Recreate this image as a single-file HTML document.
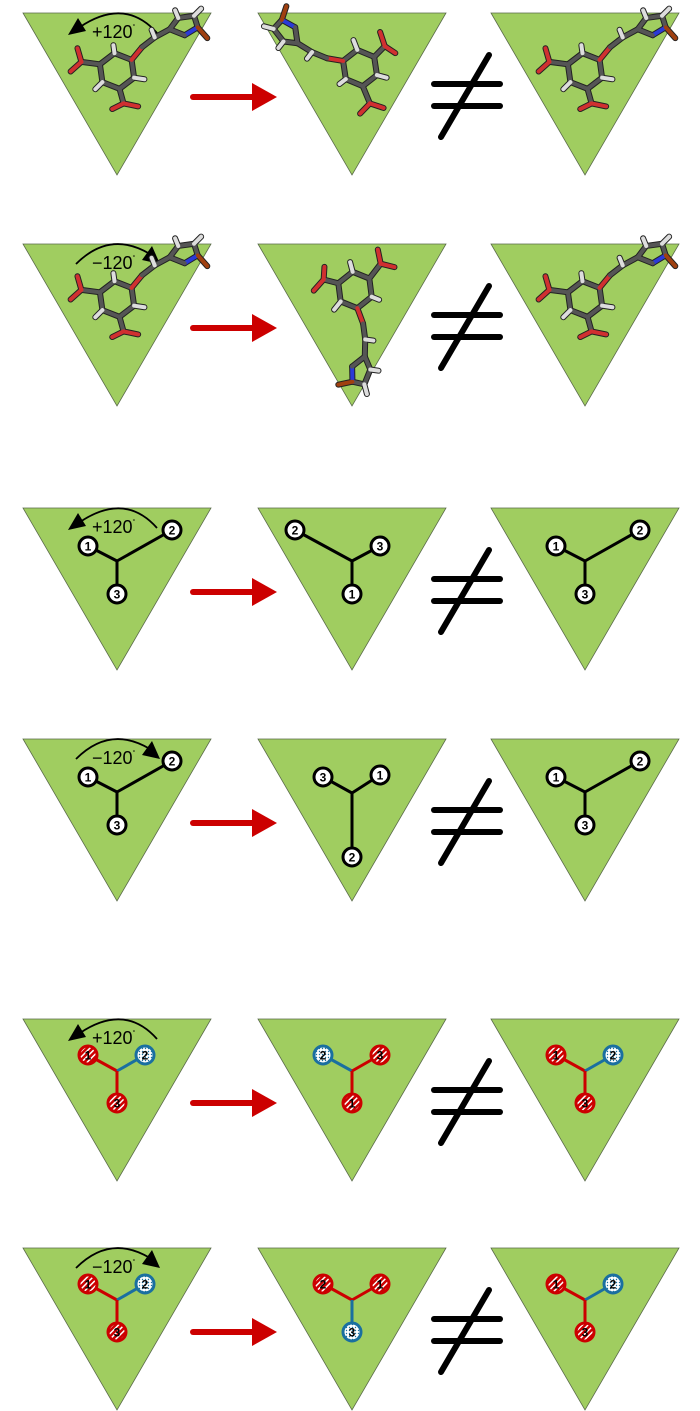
<!DOCTYPE html>
<html><head><meta charset="utf-8"><style>
html,body{margin:0;padding:0;background:#fff;}
svg{display:block;font-family:"Liberation Sans","DejaVu Sans",sans-serif;}
</style></head><body>
<svg id="s" width="700" height="1411" viewBox="0 0 700 1411" xmlns="http://www.w3.org/2000/svg">
<defs>
<pattern id="stripe" width="4" height="4" patternUnits="userSpaceOnUse" patternTransform="rotate(45)"><rect width="4" height="4" fill="#c00"/><rect width="1.5" height="4" fill="#fff"/></pattern>
<pattern id="dots" width="3" height="3" patternUnits="userSpaceOnUse"><rect width="3" height="3" fill="#fff"/><circle cx="1.5" cy="1.5" r="0.7" fill="#1a6fa0"/></pattern>
</defs>
</svg>
<script>
const NS="http://www.w3.org/2000/svg";
const svg=document.getElementById('s');
function mk(tag,attrs,parent){const e=document.createElementNS(NS,tag);for(const k in attrs)e.setAttribute(k,attrs[k]);(parent||svg).appendChild(e);return e;}
const rowTops=[13,244,508,739,1019,1248];
const colX=[0,235,468];
rowTops.forEach((t,r)=>{colX.forEach((dx,c)=>{
  const p=mk('polygon',{points:`${23+dx},${t} ${211+dx},${t} ${117+dx},${t+162}`,fill:'#a0cd60',stroke:'#5a6b4a','stroke-width':'0.8'});
  
  
});
  const g=mk('g',{});
  
  
  mk('line',{x1:193,y1:t+84,x2:256,y2:t+84,stroke:'#cc0000','stroke-width':'6','stroke-linecap':'round'},g);
  mk('polygon',{points:`252,${t+70} 277,${t+84} 252,${t+98}`,fill:'#cc0000'},g);
  const ne=mk('g',{stroke:'#000','stroke-width':'6','stroke-linecap':'round'});
  
  
  mk('line',{x1:434,y1:t+71,x2:500,y2:t+71},ne);
  mk('line',{x1:434,y1:t+93,x2:500,y2:t+93},ne);
  mk('line',{x1:441,y1:t+124,x2:489,y2:t+42},ne);
});
function rot(t,plus,idx){
  const g=mk('g',{});
  
  
  if(plus){
    mk('path',{d:`M157,${t+20} Q125,${t-16} 80,${t+14}`,fill:'none',stroke:'#000','stroke-width':'1.8'},g);
    mk('polygon',{points:`68,${t+22} 78,${t+5} 86,${t+18}`,fill:'#000'},g);
  }else{
    mk('path',{d:`M76,${t+20} Q110,${t-14} 150,${t+10}`,fill:'none',stroke:'#000','stroke-width':'1.8'},g);
    mk('polygon',{points:`160,${t+20} 142,${t+16} 152,${t+2}`,fill:'#000'},g);
  }
  const tx=mk('text',{x:92,y:t+25,'font-size':'18',fill:'#000'},g);
  tx.textContent=plus?'+120':'\u2212120';
  const d=mk('tspan',{'font-size':'7',dy:'-9'},tx);d.textContent='°';
}
rot(13,true,1);rot(244,false,2);rot(508,true,3);rot(739,false,4);rot(1019,true,5);rot(1248,false,6);
function node(x,y,label,style,name){
  const g=mk('g',{});
  
  
  let fill='#fff',stroke='#000';
  if(style==='r'){fill='url(#stripe)';stroke='#c00';}
  if(style==='b'){fill='url(#dots)';stroke='#1a6fa0';}
  mk('circle',{cx:x,cy:y,r:9,fill:fill,stroke:stroke,'stroke-width':'3'},g);
  const tx=mk('text',{x:x,y:y+4.5,'font-size':'12','font-weight':'bold','text-anchor':'middle',fill:'#000'},g);
  tx.textContent=label;
}
function star(cx,cy,nodes,prefix){
  nodes.forEach(n=>{mk('line',{x1:cx,y1:cy,x2:n[0],y2:n[1],stroke:n[3]==='r'?'#c00':n[3]==='b'?'#1a6fa0':'#000','stroke-width':'3'});});
  nodes.forEach(n=>node(n[0],n[1],n[2],n[3],prefix+'-node-'+n[2]));
}
star(117,561,[[88,546,'1','w'],[172,530,'2','w'],[117,594,'3','w']],'r3-left');
star(352,561,[[295,530,'2','w'],[380,546,'3','w'],[352,594,'1','w']],'r3-mid');
star(585,561,[[556,546,'1','w'],[640,530,'2','w'],[585,594,'3','w']],'r3-right');
star(117,792,[[88,777,'1','w'],[172,761,'2','w'],[117,825,'3','w']],'r4-left');
star(352,793,[[323,777,'3','w'],[380,775,'1','w'],[352,857,'2','w']],'r4-mid');
star(585,792,[[556,777,'1','w'],[640,761,'2','w'],[585,825,'3','w']],'r4-right');
star(117,1071,[[88,1055,'1','r'],[145,1055,'2','b'],[117,1103,'3','r']],'r5-left');
star(352,1071,[[323,1055,'2','b'],[380,1055,'3','r'],[352,1103,'1','r']],'r5-mid');
star(585,1071,[[556,1055,'1','r'],[613,1055,'2','b'],[585,1103,'3','r']],'r5-right');
star(117,1300,[[88,1284,'1','r'],[145,1284,'2','b'],[117,1332,'3','r']],'r6-left');
star(352,1300,[[323,1284,'2','r'],[380,1284,'1','r'],[352,1332,'3','b']],'r6-mid');
star(585,1300,[[556,1284,'1','r'],[613,1284,'2','b'],[585,1332,'3','r']],'r6-right');
const bonds=[
 [0,-18,16,-9,'g'],[16,-9,16,9,'g'],[16,9,0,18,'g'],[0,18,-16,9,'g'],[-16,9,-16,-9,'g'],[-16,-9,0,-18,'g'],
 [-16,-9,-34,-14,'g'],[-34,-14,-46,-6,'r'],[-34,-14,-36,-28,'r'],
 [0,18,2,33,'g'],[2,33,-10,37,'r'],[2,33,16,38,'r'],
 [16,-9,28,-20,'r'],[28,-20,42,-28,'g'],[42,-28,58,-34,'g'],
 [58,-34,68,-44,'g'],[68,-44,84,-44,'g'],[84,-44,86,-32,'g'],[86,-32,72,-26,'b'],[72,-26,58,-34,'g'],[86,-32,94,-20,'o'],
 [0,-18,0,-26,'w'],[16,9,26,12,'w'],[-16,9,-24,15,'w'],[68,-44,66,-52,'w'],[84,-44,92,-50,'w'],[42,-28,40,-36,'w']
];
const col={g:'#555',r:'#d03030',b:'#2a3ad8',o:'#a04010',w:'#ddd'};
function mol(cx,cy,ang,name){
  const g=mk('g',{transform:`translate(${cx},${cy}) rotate(${ang})`});
  
  
  bonds.forEach(b=>{mk('line',{x1:b[0],y1:b[1],x2:b[2],y2:b[3],stroke:'#222','stroke-width':'6','stroke-linecap':'round'},g);});
  bonds.forEach(b=>{mk('line',{x1:b[0],y1:b[1],x2:b[2],y2:b[3],stroke:col[b[4]],'stroke-width':'4','stroke-linecap':'round'},g);});
}
mol(117,71,-8,'molecule-r1-left');
mol(360,68,-128,'molecule-r1-mid');
mol(585,71,-8,'molecule-r1-right');
mol(117,299,-8,'molecule-r2-left');
mol(355,290,112,'molecule-r2-mid');
mol(585,299,-8,'molecule-r2-right');
</script>
</body></html>
